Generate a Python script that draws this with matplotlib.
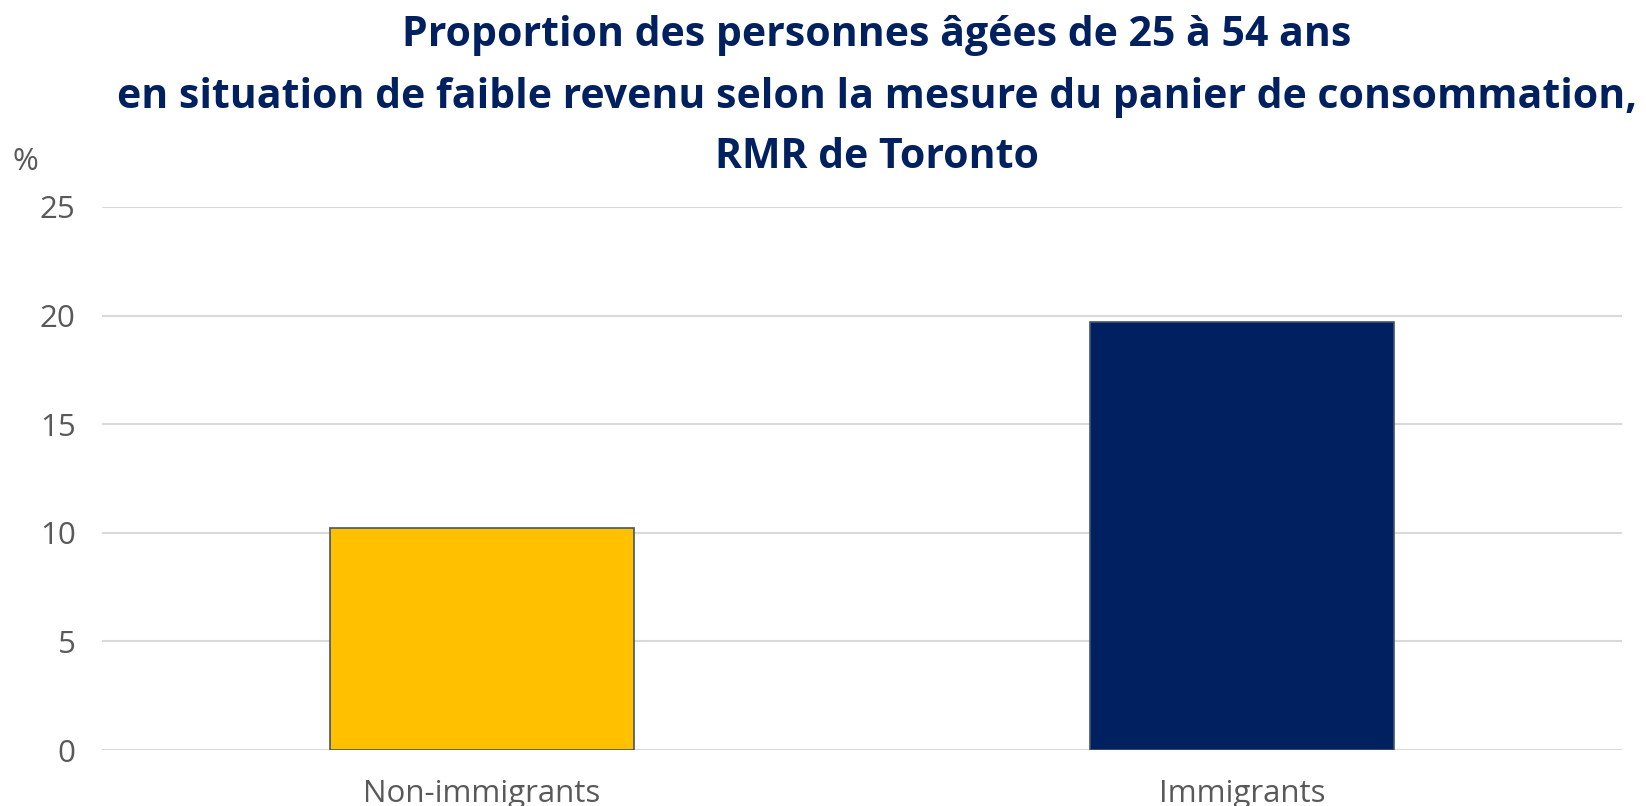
import matplotlib
matplotlib.use("Agg")
import matplotlib.pyplot as plt

categories = ["Non-immigrants", "Immigrants"]
values = [10.2, 19.7]
colors = ["#FFC000", "#002060"]
yticks = [0, 5, 10, 15, 20, 25]
title_lines = [
    "Proportion des personnes âgées de 25 à 54 ans",
    "en situation de faible revenu selon la mesure du panier de consommation,",
    "RMR de Toronto",
]

plt.rcParams["font.family"] = ["Open Sans", "DejaVu Sans"]

fig = plt.figure(figsize=(16.46, 8.06), dpi=100)
ax = fig.add_axes([102/1646, 56/806, 1520/1646, 543/806])

x = list(range(len(categories)))
ax.bar(x, values, width=0.4, color=colors, edgecolor="#44546A", linewidth=1.2, zorder=3)
ax.set_xlim(-0.5, 1.5)
ax.set_ylim(0, 25)
ax.set_yticks(yticks)
ax.set_xticks(x)
ax.set_xticklabels(categories)
ax.grid(axis="y", color="#D9D9D9", linewidth=1.5, zorder=0)
for s in ax.spines.values():
    s.set_visible(False)
ax.tick_params(axis="both", length=0, labelsize=22.5, labelcolor="#595959")
ax.tick_params(axis="y", pad=19)
ax.tick_params(axis="x", pad=21)

fig.text(13/1646, 1 - 162/806, "%", fontsize=22.5, color="#595959", ha="left", va="center")

ys = [35, 97, 157]
for line, y in zip(title_lines, ys):
    fig.text(877/1646, 1 - y/806, line, fontsize=29.5, fontweight="bold",
             color="#002060", ha="center", va="center")

fig.savefig("out.png", dpi=100)
